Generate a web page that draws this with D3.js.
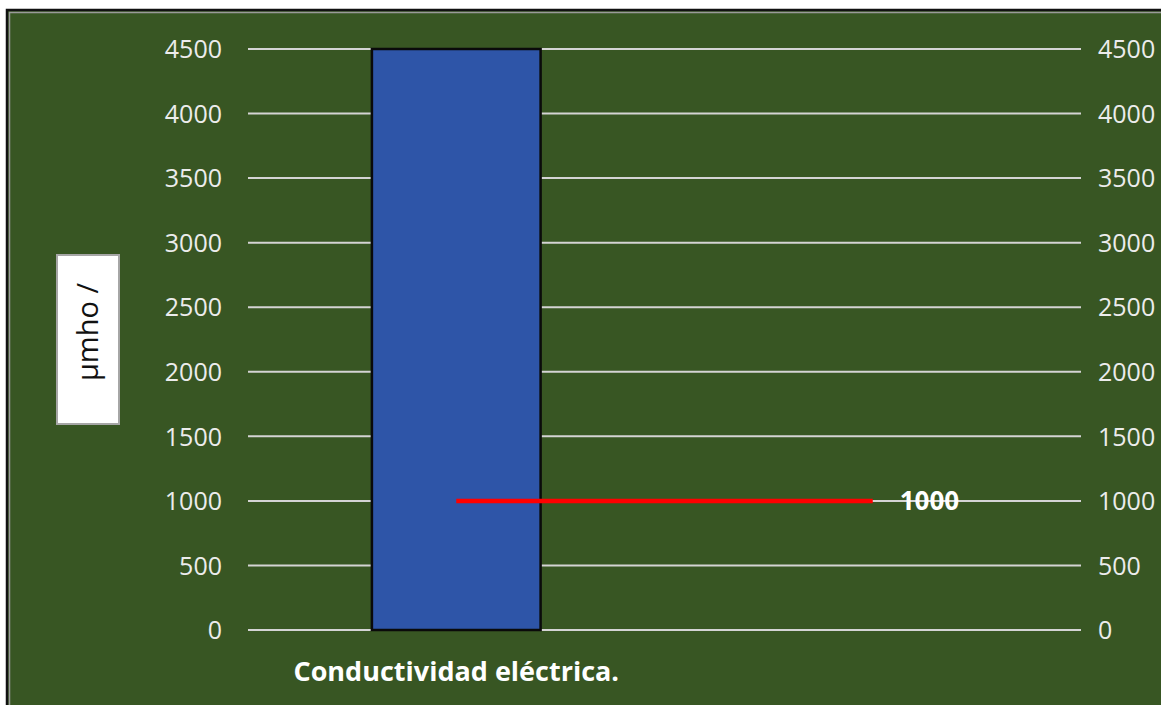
<!DOCTYPE html>
<html lang="es">
<head>
<meta charset="UTF-8">
<title>Conductividad eléctrica</title>
<script src="https://d3js.org/d3.v7.min.js"></script>
<style>
    body { margin: 0; background: #ffffff; }
    svg { display: block; }
    .tick-label { font-family: 'Open Sans', sans-serif; font-size: 25px; fill: #ececec; }
</style>
</head>
<body>
<div id="chart"></div>
<script>
// chart data
const categories = ["Conductividad eléctrica.", ""];
const barValues = [4500, null];
const limitValues = [1000, 1000];
const tickValues = [0, 500, 1000, 1500, 2000, 2500, 3000, 3500, 4000, 4500];
const axisTitle = "µmho /";

const width = 1161, height = 705;
const plot = { left: 248, right: 1081, top: 49, bottom: 630 };

const svg = d3.select("#chart").append("svg")
    .attr("width", width)
    .attr("height", height);

// frame + green background
svg.append("rect").attr("x", 7).attr("y", 10).attr("width", width).attr("height", height)
    .attr("fill", "#385623").attr("stroke", "#111").attr("stroke-width", 2.5);
svg.append("rect").attr("x", 9.5).attr("y", 12.5).attr("width", width).attr("height", height)
    .attr("fill", "none").attr("stroke", "#9a9a9a").attr("stroke-width", 1.5);

const x = d3.scaleBand()
    .domain(categories.map((c, i) => i))
    .range([plot.left, plot.right])
    .padding(0);

const y = d3.scaleLinear()
    .domain([0, 4500])
    .range([plot.bottom, plot.top]);

// gridlines
svg.append("g")
    .selectAll("line")
    .data(tickValues)
    .join("line")
    .attr("x1", plot.left).attr("x2", plot.right)
    .attr("y1", d => y(d)).attr("y2", d => y(d))
    .attr("stroke", "#d4d4d4").attr("stroke-width", 2);

// left axis labels
const leftAxis = d3.axisLeft(y).tickValues(tickValues).tickFormat(d3.format("d")).tickSize(0).tickPadding(26);
const gl = svg.append("g").attr("transform", `translate(${plot.left},0)`).call(leftAxis);
gl.select(".domain").remove();
gl.selectAll("text").attr("class", "tick-label").attr("dy", "0.35em");

// right axis labels
const rightAxis = d3.axisRight(y).tickValues(tickValues).tickFormat(d3.format("d")).tickSize(0).tickPadding(17);
const gr = svg.append("g").attr("transform", `translate(${plot.right},0)`).call(rightAxis);
gr.select(".domain").remove();
gr.selectAll("text").attr("class", "tick-label").attr("dy", "0.35em");

// bars
const barW = x.bandwidth() * 0.405;
svg.append("g")
    .selectAll("rect")
    .data(barValues.map((v, i) => ({ i, v })).filter(d => d.v != null))
    .join("rect")
    .attr("x", d => x(d.i) + x.bandwidth() / 2 - barW / 2)
    .attr("y", d => y(d.v))
    .attr("width", barW)
    .attr("height", d => y(0) - y(d.v))
    .attr("fill", "#2e55a8")
    .attr("stroke", "#0a0a0a")
    .attr("stroke-width", 2.5);

// limit line
const line = d3.line()
    .x((d, i) => x(i) + x.bandwidth() / 2)
    .y(d => y(d));
svg.append("path")
    .datum(limitValues)
    .attr("d", line)
    .attr("fill", "none")
    .attr("stroke", "#ff0000")
    .attr("stroke-width", 4.5);

// data label at last point
const last = limitValues.length - 1;
svg.append("text")
    .attr("x", x(last) + x.bandwidth() / 2 + 27)
    .attr("y", y(limitValues[last]))
    .attr("dy", "0.35em")
    .attr("font-family", "'Open Sans', sans-serif")
    .attr("font-size", 26)
    .attr("font-weight", 700)
    .attr("fill", "#ffffff")
    .text(limitValues[last]);

// category labels
svg.append("g")
    .selectAll("text")
    .data(categories)
    .join("text")
    .attr("x", (d, i) => x(i) + x.bandwidth() / 2)
    .attr("y", 672)
    .attr("dy", "0.35em")
    .attr("text-anchor", "middle")
    .attr("font-family", "'Open Sans', sans-serif")
    .attr("font-size", 27)
    .attr("font-weight", 700)
    .attr("fill", "#ffffff")
    .text(d => d);

// axis title box
const tb = svg.append("g");
tb.append("rect")
    .attr("x", 57).attr("y", 255).attr("width", 62).attr("height", 169)
    .attr("fill", "#ffffff").attr("stroke", "#a6a6a6").attr("stroke-width", 2);
tb.append("text")
    .attr("transform", "translate(88,332) rotate(-90)")
    .attr("text-anchor", "middle")
    .attr("dy", "0.35em")
    .attr("font-family", "'Open Sans', sans-serif")
    .attr("font-size", 29)
    .attr("fill", "#111")
    .text(axisTitle);
</script>
</body>
</html>
